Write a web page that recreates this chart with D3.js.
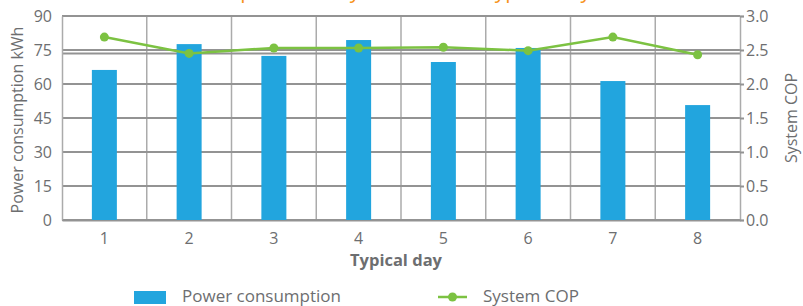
<!DOCTYPE html>
<html>
<head>
<meta charset="utf-8">
<script src="https://cdn.jsdelivr.net/npm/d3@7"></script>
<style>
  body { margin: 0; background: #fff; }
  svg text { font-family: "Open Sans", sans-serif; fill: #6d6e70; }
</style>
</head>
<body>
<div id="chart"></div>
<script>
// data
const days = ["1", "2", "3", "4", "5", "6", "7", "8"];
const power = [66.2, 77.6, 72.4, 79.4, 69.7, 75.9, 61.3, 50.7];
const cop = [2.69, 2.45, 2.53, 2.53, 2.54, 2.49, 2.69, 2.43];
const leftTicks = [0, 15, 30, 45, 60, 75, 90];
const rightTicks = [0, 0.5, 1.0, 1.5, 2.0, 2.5, 3.0];

const width = 803, height = 306;
const margin = { top: 16, right: 63, bottom: 86, left: 62 };
const innerW = width - margin.left - margin.right;
const innerH = height - margin.top - margin.bottom;

const svg = d3.select("#chart").append("svg")
    .attr("width", width)
    .attr("height", height);

// title, mostly cropped off above the picture
svg.append("text")
    .attr("x", 348)
    .attr("y", -2)
    .attr("text-anchor", "middle")
    .style("font-size", "21px")
    .style("fill", "#f7941d")
    .text("Power consumption and system COP of typical days");

const g = svg.append("g")
    .attr("transform", "translate(" + margin.left + "," + margin.top + ")");

const x = d3.scaleBand().domain(days).range([0, innerW]).paddingInner(0).paddingOuter(0);
const yL = d3.scaleLinear().domain([0, 90]).range([innerH, 0]);
const yR = d3.scaleLinear().domain([0, 3]).range([innerH, 0]);

// vertical grid lines between days
g.append("g").selectAll("line")
    .data(days.slice(1))
    .enter().append("line")
    .attr("x1", d => x(d)).attr("x2", d => x(d))
    .attr("y1", 0).attr("y2", innerH)
    .attr("stroke", "#ababab")
    .attr("stroke-width", 1.5);

// horizontal grid lines
g.append("g").selectAll("line")
    .data(leftTicks)
    .enter().append("line")
    .attr("x1", 0).attr("x2", innerW)
    .attr("y1", d => yL(d)).attr("y2", d => yL(d))
    .attr("stroke", "#939393")
    .attr("stroke-width", 2);

// the right axis grid sits a touch lower at 2.5 in the reference
g.append("line")
    .attr("x1", 0).attr("x2", innerW)
    .attr("y1", yR(2.45)).attr("y2", yR(2.45))
    .attr("stroke", "#939393")
    .attr("stroke-width", 2);

// left axis
const leftAxis = g.append("g")
    .call(d3.axisLeft(yL).tickValues(leftTicks).tickSize(0).tickPadding(10));
leftAxis.select(".domain").attr("stroke", "#ababab").attr("stroke-width", 1.5);
leftAxis.selectAll("text").style("font-size", "16px").attr("fill", "#6d6e70");

// right axis
const rightAxis = g.append("g")
    .attr("transform", "translate(" + innerW + ",0)")
    .call(d3.axisRight(yR).tickValues(rightTicks).tickFormat(d3.format(".1f")).tickSize(4).tickPadding(2));
rightAxis.select(".domain").attr("stroke", "#ababab").attr("stroke-width", 1.5);
rightAxis.selectAll("line").attr("stroke", "#939393").attr("stroke-width", 2);
rightAxis.selectAll("text").style("font-size", "16px").attr("fill", "#6d6e70");

// bottom axis
const bottomAxis = g.append("g")
    .attr("transform", "translate(0," + innerH + ")")
    .call(d3.axisBottom(x).tickSize(0).tickPadding(13));
bottomAxis.select(".domain").attr("stroke", "#939393").attr("stroke-width", 2);
bottomAxis.selectAll("text").style("font-size", "16px").attr("fill", "#6d6e70");

// bars
const barW = 25;
g.append("g").selectAll("rect")
    .data(days)
    .enter().append("rect")
    .attr("x", d => x(d) + x.bandwidth() / 2 - barW / 2)
    .attr("y", (d, i) => yL(power[i]))
    .attr("width", barW)
    .attr("height", (d, i) => innerH - yL(power[i]))
    .attr("fill", "#22a5de");

// COP line
const line = d3.line()
    .x((d, i) => x(days[i]) + x.bandwidth() / 2)
    .y(d => yR(d));

g.append("path")
    .datum(cop)
    .attr("d", line)
    .attr("fill", "none")
    .attr("stroke", "#7cc242")
    .attr("stroke-width", 2.5);

g.append("g").selectAll("circle")
    .data(cop)
    .enter().append("circle")
    .attr("cx", (d, i) => x(days[i]) + x.bandwidth() / 2)
    .attr("cy", d => yR(d))
    .attr("r", 4.5)
    .attr("fill", "#7cc242");

// axis titles
svg.append("text")
    .attr("transform", "translate(23," + (margin.top + innerH / 2 + 2) + ") rotate(-90)")
    .attr("text-anchor", "middle")
    .style("font-size", "16px")
    .text("Power consumption kWh");

svg.append("text")
    .attr("transform", "translate(797," + (margin.top + innerH / 2) + ") rotate(-90)")
    .attr("text-anchor", "middle")
    .style("font-size", "16px")
    .text("System COP");

svg.append("text")
    .attr("x", 396)
    .attr("y", 266)
    .attr("text-anchor", "middle")
    .style("font-size", "16.5px")
    .style("font-weight", "bold")
    .text("Typical day");

// legend
const legend = svg.append("g");
legend.append("rect")
    .attr("x", 134).attr("y", 291)
    .attr("width", 32).attr("height", 13)
    .attr("fill", "#22a5de");
legend.append("text")
    .attr("x", 182).attr("y", 302)
    .style("font-size", "17px")
    .text("Power consumption");

legend.append("line")
    .attr("x1", 438).attr("x2", 467)
    .attr("y1", 297).attr("y2", 297)
    .attr("stroke", "#7cc242")
    .attr("stroke-width", 2.5);
legend.append("circle")
    .attr("cx", 452.5).attr("cy", 297)
    .attr("r", 4.5)
    .attr("fill", "#7cc242");
legend.append("text")
    .attr("x", 483).attr("y", 302)
    .style("font-size", "17px")
    .text("System COP");
</script>
</body>
</html>
